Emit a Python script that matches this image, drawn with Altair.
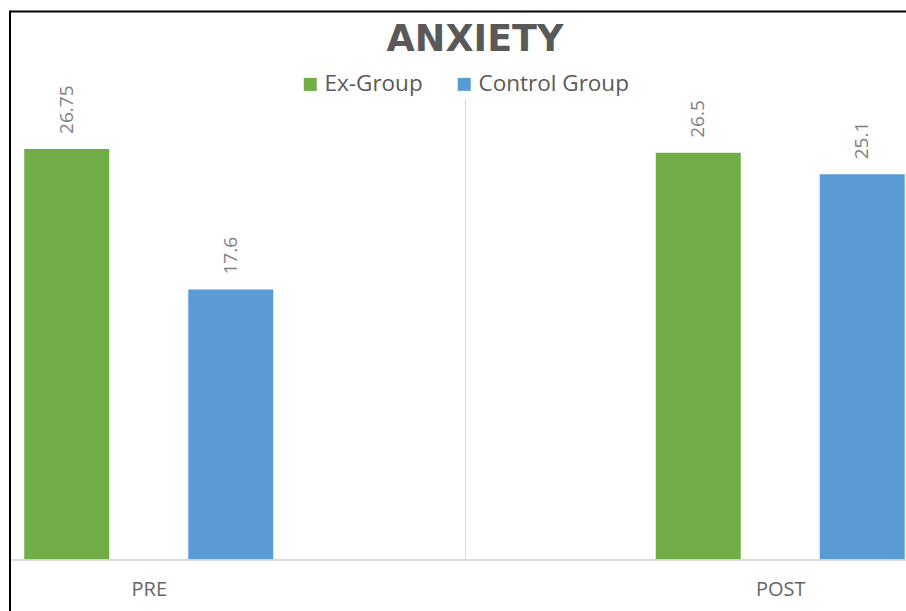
import altair as alt
import pandas as pd

title_text = "ANXIETY"
phases = ["PRE", "POST"]
groups = ["Ex-Group", "Control Group"]
ex_values = [26.75, 26.5]
control_values = [17.6, 25.1]
colors = ["#70AD47", "#5B9BD5"]

rows = []
for i, p in enumerate(phases):
    rows.append({"phase": p, "group": groups[0], "value": ex_values[i], "label": str(ex_values[i])})
    rows.append({"phase": p, "group": groups[1], "value": control_values[i], "label": str(control_values[i])})
df = pd.DataFrame(rows)

W, H = 896, 461

x = alt.X(
    "phase:N",
    sort=phases,
    scale=alt.Scale(range=[-177, 1086], paddingInner=0, paddingOuter=0),
    axis=alt.Axis(
        title=None, domain=False, ticks=False, grid=True, tickBand="extent",
        gridColor="#d9d9d9", gridWidth=1, labelAngle=0,
        labelFont="Open Sans", labelFontSize=20, labelColor="#666666",
        labelBaseline="alphabetic", labelPadding=35,
    ),
)
xo = alt.XOffset(
    "group:N", sort=groups,
    scale=alt.Scale(range=[191.25, 440.25], paddingInner=0.4817, paddingOuter=0),
)
y = alt.Y("value:Q", scale=alt.Scale(domain=[0, 30], nice=False), axis=None)

base = alt.Chart(df)

bars = base.mark_bar().encode(
    x=x, xOffset=xo, y=y,
    color=alt.Color(
        "group:N", sort=groups,
        scale=alt.Scale(domain=groups, range=colors),
        legend=alt.Legend(
            title=None, orient="none", direction="horizontal",
            legendX=289, legendY=-26, padding=0,
            symbolType="square", symbolSize=169, symbolStrokeWidth=0,
            labelFont="Open Sans", labelFontSize=22.5, labelColor="#595959",
            labelOffset=3, columnPadding=30,
        ),
    ),
)

labels = base.mark_text(
    angle=270, align="left", baseline="middle", dx=15,
    font="Open Sans", fontSize=19, color="#7f7f7f",
).encode(x=x, xOffset=xo, y=y, text="label:N")

baseline = base.mark_rule(color="#d9d9d9", strokeWidth=1).encode(y=alt.datum(0))

single = alt.Data(values=[{"k": 1}])
frame_top = alt.Chart(single).mark_rule(color="#000000", strokeWidth=2).encode(
    x=alt.value(0), x2=alt.value(W), y=alt.value(-87.5)
)
frame_left = alt.Chart(single).mark_rule(color="#000000", strokeWidth=2).encode(
    x=alt.value(0), y=alt.value(-88.5), y2=alt.value(H + 60)
)
title = alt.Chart(single).mark_text(
    font="DejaVu Sans", fontSize=36.5, fontWeight="bold", color="#595959",
    align="center", baseline="alphabetic",
).encode(x=alt.value(465), y=alt.value(-48), text=alt.value(title_text))

chart = alt.layer(bars, labels, baseline, frame_top, frame_left, title).properties(
    width=W, height=H,
    autosize=alt.AutoSizeParams(type="none"),
    padding={"left": 10, "top": 99, "right": 0, "bottom": 51},
).configure(background="white").configure_view(stroke=None)

chart.save("out.html", embed_options={"renderer": "svg", "actions": False})
